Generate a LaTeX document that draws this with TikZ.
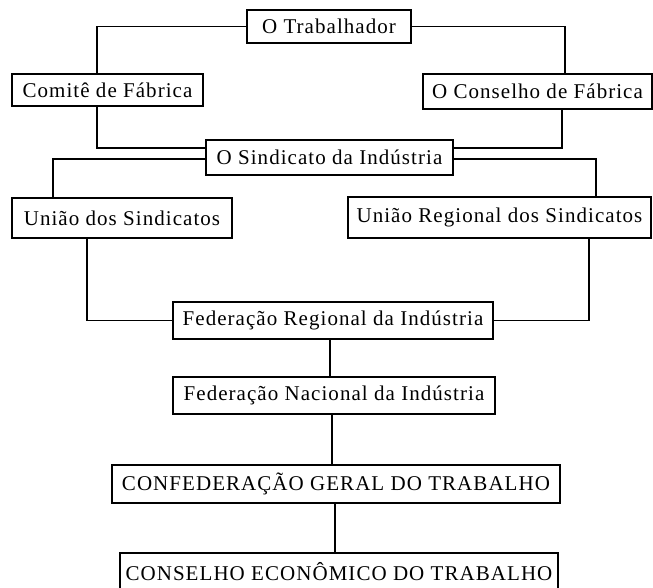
\documentclass[tikz,border=0pt]{standalone}
\usepackage{fontspec}
\setmainfont{Liberation Serif}[LetterSpace=5]
\usepackage{tikz}
\usetikzlibrary{positioning}
\tikzstyle{block}    = [rectangle, draw, line width=1.2pt, inner sep=0pt, text centered, font=\fontsize{21}{24}\selectfont]
\tikzstyle{line}     = [draw, line width=1.2pt]

\begin{document}
\begin{tikzpicture}[x=1pt, y=-1pt]
        \useasboundingbox (0,0) rectangle (653,588);
        \node [block, minimum width=164pt, minimum height=33pt] (tr) at (329,26.5) {O Trabalhador};
        \node [block, minimum width=191pt, minimum height=32pt] (cf) at (107.5,90) {Comitê de Fábrica};
        \node [block, minimum width=229pt, minimum height=35pt] (cs) at (537.5,91.5) {O Conselho de Fábrica};
        \node [block, minimum width=247pt, minimum height=35pt] (si) at (329.5,157.5) {O Sindicato da Indústria};
        \node [block, minimum width=220pt, minimum height=40pt] (us) at (122,218) {União dos Sindicatos};
        \node [block, minimum width=303pt, minimum height=41pt] (ur) at (499.5,217.5) {União Regional dos Sindicatos};
        \node [block, minimum width=320pt, minimum height=37pt] (fr) at (333,320.5) {Federação Regional da Indústria};
        \node [block, minimum width=322pt, minimum height=37pt] (fn) at (334,395.5) {Federação Nacional da Indústria};
        \node [block, minimum width=448pt, minimum height=38pt] (cg) at (336,484) {CONFEDERAÇÃO GERAL DO TRABALHO};
        \node [block, minimum width=438pt, minimum height=38pt] (ce) at (339,572) {CONSELHO ECONÔMICO DO TRABALHO};
        \path [line] (tr.west) -| ([xshift=-10.5pt]cf.north);
        \path [line] (tr.east) -| ([xshift=27.5pt]cs.north);
        \path [line] ([xshift=-10.5pt]cf.south) |- ([yshift=9.5pt]si.west);
        \path [line] ([xshift=24.5pt]cs.south) |- ([yshift=9.5pt]si.east);
        \path [line] ([yshift=-1.5pt]si.west) -| ([xshift=-69pt]us.north);
        \path [line] ([yshift=-1.5pt]si.east) -| ([xshift=96.5pt]ur.north);
        \path [line] ([xshift=-35pt]us.south) |- (fr.west);
        \path [line] ([xshift=89.5pt]ur.south) |- (fr.east);
        \path [line] ([xshift=-3pt]fr.south) -- ([xshift=-3pt]fr.south |- fn.north);
        \path [line] ([xshift=-2pt]fn.south) -- ([xshift=-2pt]fn.south |- cg.north);
        \path [line] ([xshift=-1pt]cg.south) -- ([xshift=-1pt]cg.south |- ce.north);
    \end{tikzpicture}
\end{document}
